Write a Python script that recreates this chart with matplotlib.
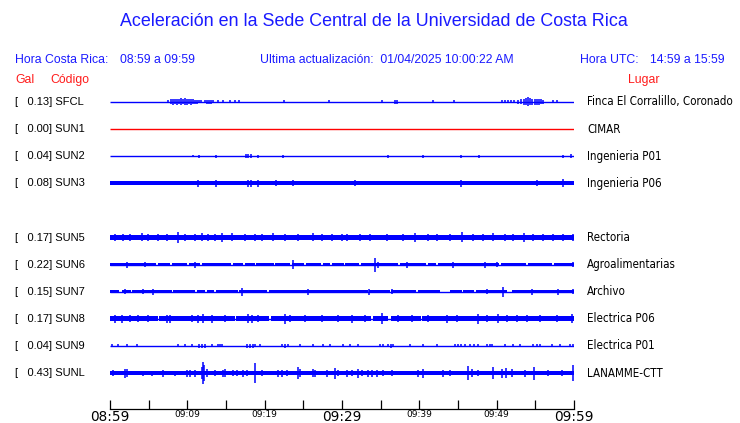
import matplotlib
matplotlib.use("Agg")
import matplotlib.pyplot as plt
import matplotlib.transforms as mtransforms
import numpy as np

# ---------------------------------------------------
# DATA (time in minutes after 08:59, amplitudes = envelope half-height)
# ---------------------------------------------------

codes = ["SFCL", "SUN1", "SUN2", "SUN3", "SUN5", "SUN6", "SUN7", "SUN8", "SUN9", "SUNL"]
row_index = [0, 1, 2, 3, 5, 6, 7, 8, 9, 10]
peak_gal = [0.13, 0.00, 0.04, 0.08, 0.17, 0.22, 0.15, 0.17, 0.04, 0.43]
places = ["Finca El Corralillo, Coronado", "CIMAR", "Ingenieria P01", "Ingenieria P06",
          "Rectoria", "Agroalimentarias", "Archivo", "Electrica P06", "Electrica P01",
          "LANAMME-CTT"]
trace_colors = ["#0000ff", "#ff0000", "#0000ff", "#0000ff", "#0000ff", "#0000ff",
                "#0000ff", "#0000ff", "#0000ff", "#0000ff"]

# background noise band half-height per station
base_amp = [0, 0, 0, 2.0, 2.8, 1.5, 1.4, 2.5, 0, 2.0]

# quiet intervals (band drops to a thin line)
gaps = {
    "SUN6": [(6.0, 6.2), (7.8, 8.0), (10.0, 10.2), (11.7, 11.9), (15.7, 15.9), (17.2, 17.4),
             (18.7, 18.9), (21.2, 21.4), (23.3, 23.5), (25.1, 25.3), (27.3, 27.5),
             (28.5, 28.7), (30.2, 30.4), (32.2, 32.4), (37.3, 37.5), (40.9, 41.1),
             (42.2, 42.4), (50.3, 50.5), (53.8, 54.0), (57.2, 57.4)],
    "SUN7": [(1.2, 1.6), (2.7, 2.9), (8.0, 8.2), (11.0, 11.2), (12.3, 12.5), (13.5, 13.7),
             (16.5, 16.7), (20.3, 20.5), (33.3, 33.5), (36.2, 36.4), (39.6, 39.8),
             (42.7, 44.0), (45.5, 45.7), (47.1, 47.3), (51.3, 52.0)],
    "SUN8": [(6.2, 6.4), (16.1, 16.3), (20.6, 20.8), (33.8, 34.0), (36.0, 36.3), (40.2, 40.4)],
}

# bursts and spikes: (minute, half-height)
spikes = {
    "SFCL": [(7.5, 1.5), (7.9, 2.5), (8.1, 3), (8.4, 2.5), (8.7, 3), (8.9, 2.5), (9.2, 3.5),
             (9.4, 2.5), (9.7, 3.5), (10.0, 3), (10.2, 2.5), (10.5, 3), (10.7, 2.5), (11.0, 2),
             (11.3, 2), (11.5, 1.5), (11.8, 1.5), (12.3, 1.5), (12.5, 2), (12.8, 2), (13.1, 2),
             (13.3, 1.5), (14.0, 1.5), (14.6, 1.5), (15.5, 1.5), (16.2, 1.5), (16.7, 1.5),
             (22.5, 1.5), (28.3, 1.5), (35.2, 1.5), (36.9, 2), (37.1, 2), (41.8, 1.5),
             (44.5, 1.5), (50.7, 1.5), (51.1, 1.5), (51.5, 1.5), (51.9, 1.5), (52.2, 1.5),
             (52.8, 2), (53.2, 2.5), (53.5, 3), (53.8, 3.5), (54.1, 4.5), (54.3, 3.5),
             (54.6, 3), (55.0, 3), (55.2, 3), (55.5, 3), (55.7, 2.5), (56.0, 2), (57.3, 1.5),
             (57.8, 1.5)],
    "SUN1": [],
    "SUN2": [(10.7, 1), (11.5, 1.5), (13.7, 1.5), (17.6, 2), (17.9, 2), (18.2, 2), (19.1, 1.5),
             (22.4, 1.5), (35.9, 1.5), (40.5, 1.5), (45.4, 1.5), (47.7, 1.5), (58.6, 1.5),
             (59.6, 2)],
    "SUN3": [(11.4, 3.5), (13.7, 3.5), (17.8, 3.5), (18.2, 3.5), (19.1, 3.5), (21.5, 3),
             (23.7, 3), (31.7, 3), (45.4, 3.5), (55.2, 3), (58.6, 4)],
    "SUN5": [(0.6, 3.5), (1.7, 3.5), (2.6, 3.5), (4.1, 4), (4.9, 3.5), (6.2, 3.5), (7.4, 3.5),
             (8.8, 5.5), (9.7, 3.5), (11.0, 3.5), (11.9, 4), (12.7, 3.5), (13.6, 3.5),
             (14.5, 4.5), (15.8, 4), (17.5, 3.5), (18.8, 3.5), (19.7, 3.5), (21.1, 4),
             (22.6, 3.5), (24.3, 3.5), (26.3, 4), (27.4, 3.5), (28.7, 3.5), (30.0, 3.5),
             (30.6, 3.5), (32.3, 3.5), (33.6, 3.5), (35.8, 3.5), (37.9, 3.5), (39.4, 4.5),
             (41.1, 3.5), (42.3, 3.5), (44.0, 3.5), (45.5, 5), (46.9, 3.5), (48.2, 3.5),
             (49.5, 4), (51.1, 3.5), (52.1, 3.5), (53.5, 4.5), (54.7, 3.5), (56.0, 3.5),
             (57.3, 3.5), (58.6, 3.5), (59.9, 3.5)],
    "SUN6": [(2.2, 3), (4.5, 2.5), (11.0, 3), (23.7, 4.5), (34.3, 7), (34.7, 3), (38.4, 3),
             (44.4, 3), (48.5, 3), (50.0, 2.5), (59.9, 2.5)],
    "SUN7": [(1.9, 2.5), (4.3, 2.5), (5.6, 3), (17.1, 4), (25.6, 3), (33.5, 3), (36.5, 2.5),
             (48.8, 2.5), (50.8, 5), (54.6, 3), (57.9, 3), (59.9, 2.5)],
    "SUN8": [(0.6, 4), (1.6, 4), (2.6, 3.5), (3.6, 3.5), (4.9, 3.5), (7.4, 4), (7.8, 4),
             (10.6, 3.5), (11.4, 4), (12.0, 4.5), (13.2, 4), (14.9, 3.5), (17.8, 4.5),
             (18.4, 4), (19.1, 3.5), (22.6, 5), (23.3, 3.5), (25.2, 3.5), (27.4, 3.5),
             (29.5, 3.5), (31.3, 4), (33.0, 3.5), (35.2, 5.5), (37.2, 3.5), (39.1, 3.5),
             (41.1, 3.5), (43.6, 4), (44.9, 3.5), (47.6, 5), (48.8, 3.5), (50.2, 4.5),
             (51.3, 3.5), (52.6, 3.5), (53.9, 3.5), (55.6, 3.5), (57.8, 3.5), (59.7, 4.5)],
    "SUN9": [(0.3, 1.5), (1.0, 1.5), (2.2, 1.5), (3.5, 1.5), (8.8, 1.5), (9.7, 1.5), (10.6, 1.5),
             (11.5, 2), (11.9, 2), (12.3, 2), (13.2, 1.5), (14.0, 1.5), (14.2, 1.5), (14.5, 1.5),
             (17.7, 2), (18.1, 2), (18.5, 2), (18.8, 1.5), (19.4, 1.5), (22.2, 1.5), (22.6, 2),
             (23.0, 1.5), (24.6, 1.5), (26.3, 1.5), (27.5, 1.5), (28.4, 1.5), (30.1, 1.5),
             (31.0, 1.5), (32.1, 1.5), (34.9, 1.5), (35.3, 1.5), (35.9, 1.5), (36.3, 2),
             (36.6, 1.5), (38.8, 1.5), (40.5, 1.5), (42.3, 1.5), (44.6, 1.5), (45.0, 1.5),
             (45.4, 1.5), (45.9, 1.5), (46.6, 1.5), (47.1, 1.5), (47.6, 1.5), (48.8, 1.5),
             (49.1, 1.5), (49.4, 1.5), (51.1, 1.5), (52.1, 1.5), (53.0, 1.5), (54.7, 1.5),
             (55.2, 1.5), (55.6, 1.5), (57.2, 1.5), (58.2, 1.5), (59.5, 1.5), (59.9, 1.5)],
    "SUNL": [(0.4, 3), (1.9, 4.5), (2.2, 4), (4.3, 2.5), (5.4, 2.5), (6.9, 3.5), (8.4, 2.5),
             (10.0, 3.5), (10.3, 3.5), (11.0, 3.5), (11.9, 6), (12.0, 11), (12.2, 8), (12.5, 4),
             (13.6, 3), (14.6, 3.5), (14.9, 4), (15.9, 3), (16.4, 3), (17.2, 3.5), (17.7, 3),
             (18.8, 10), (19.7, 3), (21.7, 3.5), (22.2, 3.5), (22.9, 3), (24.3, 6), (24.6, 4),
             (26.3, 4), (26.5, 3.5), (28.1, 3.5), (29.1, 5.5), (29.5, 3), (30.6, 3.5), (31.3, 3),
             (32.1, 4.5), (32.6, 3), (33.4, 3.5), (33.9, 3.5), (34.5, 3.5), (35.3, 3), (36.5, 3),
             (39.8, 3.5), (40.5, 4.5), (43.1, 3.5), (44.0, 3), (46.3, 7), (46.8, 4), (47.6, 3),
             (49.5, 6), (50.7, 4.5), (51.2, 5), (52.0, 4), (53.7, 3.5), (54.8, 6.5), (56.6, 3),
             (58.4, 3), (59.9, 8.5)],
}

tick_minutes = [0, 5, 10, 15, 20, 25, 30, 35, 40, 45, 50, 55, 60]
tick_labels = ["08:59", "", "09:09", "", "09:19", "", "09:29", "", "09:39", "", "09:49", "", "09:59"]
big_labels = ["08:59", "09:29", "09:59"]

title = "Aceleración en la Sede Central de la Universidad de Costa Rica"
updated = "01/04/2025 10:00:22 AM"
local_range = "08:59 a 09:59"
utc_range = "14:59 a 15:59"

T0, T1 = tick_minutes[0], tick_minutes[-1]
AMP = 1 / 27.1  # envelope units -> row units

# ---------------------------------------------------
# FIGURE
# ---------------------------------------------------

W, H = 740, 423
fig = plt.figure(figsize=(W / 100, H / 100), dpi=100, facecolor="white")

ax_left, ax_right = 110, 574
ax_top, ax_bottom = 87, 409
ax = fig.add_axes([ax_left / W, (H - ax_bottom) / H,
                   (ax_right - ax_left) / W, (ax_bottom - ax_top) / H])
ax.set_xlim(T0, T1)
ax.set_ylim((ax_bottom - 102) / 27.1, (ax_top - 102) / 27.1)

for code, row, base, color in zip(codes, row_index, base_amp, trace_colors):
    ax.hlines(row, T0, T1, color=color, lw=1.0)
    if base > 0:
        edges = [T0]
        for g0, g1 in gaps.get(code, []):
            edges += [g0, g1]
        edges.append(T1)
        for a, b in zip(edges[::2], edges[1::2]):
            ax.fill_between([a, b], row - base * AMP, row + base * AMP,
                            color=color, lw=0)
    if spikes[code]:
        ts = np.array([s[0] for s in spikes[code]])
        amps = np.array([s[1] for s in spikes[code]]) * AMP
        ax.vlines(ts, row - amps, row + amps, color=color, lw=1.1)

for side in ["top", "left", "right"]:
    ax.spines[side].set_visible(False)
ax.spines["bottom"].set_linewidth(0.9)
ax.set_yticks([])
ax.set_xticks(tick_minutes)
ax.set_xticklabels(tick_labels)
ax.tick_params(axis="x", direction="in", length=6.5, width=0.9, pad=0.5)
for lab in ax.get_xticklabels():
    lab.set_fontfamily("DejaVu Sans")
    if lab.get_text() in big_labels:
        lab.set_fontsize(9.8)
    else:
        lab.set_fontsize(6.5)

# ---------------------------------------------------
# TEXTS
# ---------------------------------------------------

blue = "#1a1aff"
red = "#ff1a1a"
head = dict(family="Liberation Sans", fontsize=8.8, va="center")

fig.text(374 / W, 1 - 22 / H, title, ha="center", va="center",
         family="Liberation Sans", fontsize=12.9, color=blue)

fig.text(15 / W, 1 - 60 / H, "Hora Costa Rica:", color=blue, **head)
fig.text(120 / W, 1 - 60 / H, local_range, color=blue, **head)
fig.text(260 / W, 1 - 60 / H, "Ultima actualización:  " + updated, color=blue, **head)
fig.text(580 / W, 1 - 60 / H, "Hora UTC:", color=blue, **head)
fig.text(650 / W, 1 - 60 / H, utc_range, color=blue, **head)

fig.text(15 / W, 1 - 80 / H, "Gal", color=red, **head)
fig.text(50 / W, 1 - 80 / H, "Código", color=red, **head)
fig.text(644 / W, 1 - 80 / H, "Lugar", color=red, ha="center",
         family="Liberation Sans", fontsize=8.8, va="center")

trans = mtransforms.blended_transform_factory(fig.transFigure, ax.transData)
for code, row, gal, place in zip(codes, row_index, peak_gal, places):
    fig.text(15 / W, row, f"[   {gal:.2f}] {code}", transform=trans, va="center",
             family="Liberation Sans", fontsize=8, color="black")
    fig.text(587 / W, row, place, transform=trans, va="center",
             family="DejaVu Sans", fontstretch="condensed", fontsize=8.3, color="black")

fig.savefig("out.png", dpi=100, facecolor="white")
